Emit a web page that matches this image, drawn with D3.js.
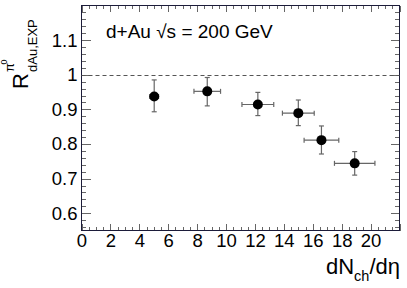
<!DOCTYPE html>
<html><head><meta charset="utf-8">
<script src="https://cdn.jsdelivr.net/npm/d3@7/dist/d3.min.js"></script>
<style>
body{margin:0;background:#fff}
svg{display:block}
text{font-family:"Liberation Sans",Arial,Helvetica,sans-serif;fill:#000}
</style></head>
<body><svg id="c" width="407" height="288"></svg>
<script>
// ---- data ----
const dNdEta   = [5.03, 8.7, 12.2, 15.0, 16.6, 18.9];
const dNdEtaErr= [0.3, 0.92, 1.1, 1.1, 1.2, 1.4];
const rdAu     = [0.937, 0.952, 0.914, 0.889, 0.811, 0.744];
const rdAuErrHi= [0.048, 0.040, 0.035, 0.038, 0.041, 0.034];
const rdAuErrLo= [0.044, 0.042, 0.032, 0.036, 0.040, 0.034];
const xTickLabels = [0,2,4,6,8,10,12,14,16,18,20];
const yTickLabels = [0.6,0.7,0.8,0.9,1,1.1];
const xDomain = [0,22], yDomain = [0.55,1.2];
const refLine = 1;
const labelText = "d+Au \u221As = 200 GeV";

const svg = d3.select("#c");
const L=81.5, R=399.5, T=5.5, B=230.5;
const x = d3.scaleLinear().domain(xDomain).range([L,R]);
const y = d3.scaleLinear().domain(yDomain).range([B,T]);

const xMinor = d3.range(0,22.001,0.5).filter(v=>Math.abs(v/2-Math.round(v/2))>1e-6);
const yMinor = d3.range(0.56,1.2,0.02).filter(v=>Math.abs(v*10-Math.round(v*10))>1e-6);
const xMajorAll = d3.range(0,22.001,2);
const yMajorAll = d3.range(0.6,1.2,0.1);

function styleAxis(g){
  g.select(".domain").remove();
  g.selectAll(".tick line").attr("stroke","#666").attr("shape-rendering","crispEdges");
  g.selectAll("text").attr("font-size","18.5px").attr("fill","#000");
}
// bottom
svg.append("g").attr("transform",`translate(0,${B})`)
  .call(d3.axisBottom(x).tickValues(xMinor).tickSize(-3.5).tickFormat("")).call(styleAxis);
svg.append("g").attr("transform",`translate(0,${B})`)
  .call(d3.axisBottom(x).tickValues(xMajorAll).tickSize(-6.5).tickPadding(3)
     .tickFormat(d=> xTickLabels.includes(d)? d3.format("d")(d):"")).call(styleAxis);
// top
svg.append("g").attr("transform",`translate(0,${T})`)
  .call(d3.axisTop(x).tickValues(xMinor).tickSize(-3.5).tickFormat("")).call(styleAxis);
svg.append("g").attr("transform",`translate(0,${T})`)
  .call(d3.axisTop(x).tickValues(xMajorAll).tickSize(-6.5).tickFormat("")).call(styleAxis);
// left
svg.append("g").attr("transform",`translate(${L},0)`)
  .call(d3.axisLeft(y).tickValues(yMinor).tickSize(-4.5).tickFormat("")).call(styleAxis);
svg.append("g").attr("transform",`translate(${L},0)`)
  .call(d3.axisLeft(y).tickValues(yMajorAll).tickSize(-9).tickPadding(4)
     .tickFormat(d=>{const m=yTickLabels.find(v=>Math.abs(v-d)<1e-6); return m===undefined?"":String(m);}))
  .call(styleAxis);
// right
svg.append("g").attr("transform",`translate(${R},0)`)
  .call(d3.axisRight(y).tickValues(yMinor).tickSize(-4.5).tickFormat("")).call(styleAxis);
svg.append("g").attr("transform",`translate(${R},0)`)
  .call(d3.axisRight(y).tickValues(yMajorAll).tickSize(-9).tickFormat("")).call(styleAxis);

// frame
svg.append("rect").attr("x",L).attr("y",T).attr("width",R-L).attr("height",B-T)
  .attr("fill","none").attr("stroke","#1c1c3a").attr("stroke-width",1);

// reference dashed line
svg.append("line").attr("x1",x(xDomain[0])).attr("x2",x(xDomain[1]))
  .attr("y1",Math.round(y(refLine))+0.5).attr("y2",Math.round(y(refLine))+0.5)
  .attr("stroke","#555").attr("stroke-dasharray","4,3").attr("stroke-width",1);

// error bars
const data = dNdEta.map((d,i)=>({x:d,xe:dNdEtaErr[i],y:rdAu[i],hi:rdAuErrHi[i],lo:rdAuErrLo[i]}));
const eb = svg.append("g").attr("stroke","#666").attr("stroke-width",1.2).attr("fill","none");
data.forEach(d=>{
  const cx=x(d.x), cy=y(d.y);
  eb.append("line").attr("x1",cx).attr("x2",cx).attr("y1",y(d.y+d.hi)).attr("y2",y(d.y-d.lo));
  eb.append("line").attr("x1",cx-2.5).attr("x2",cx+2.5).attr("y1",y(d.y+d.hi)).attr("y2",y(d.y+d.hi));
  eb.append("line").attr("x1",cx-2.5).attr("x2",cx+2.5).attr("y1",y(d.y-d.lo)).attr("y2",y(d.y-d.lo));
  eb.append("line").attr("x1",x(d.x-d.xe)).attr("x2",x(d.x+d.xe)).attr("y1",cy).attr("y2",cy);
  eb.append("line").attr("x1",x(d.x-d.xe)).attr("x2",x(d.x-d.xe)).attr("y1",cy-2.5).attr("y2",cy+2.5);
  eb.append("line").attr("x1",x(d.x+d.xe)).attr("x2",x(d.x+d.xe)).attr("y1",cy-2.5).attr("y2",cy+2.5);
});
svg.append("g").selectAll("circle").data(data).join("circle")
  .attr("cx",d=>x(d.x)).attr("cy",d=>y(d.y)).attr("r",5).attr("fill","#000");

// annotation
svg.append("text").attr("x",106).attr("y",38).attr("font-size","19px").text(labelText);

// x title
const xt = svg.append("text").attr("x",400).attr("y",274).attr("text-anchor","end").attr("font-size","22px");
xt.append("tspan").text("dN");
xt.append("tspan").attr("font-size","14.5px").attr("dy",7).text("ch");
xt.append("tspan").attr("dy",-7).text("/d\u03B7");

// y title
const yt = svg.append("g").attr("transform","translate(28,89) rotate(-90)");
yt.append("text").attr("x",0).attr("y",0).attr("font-size","22px").text("R");
yt.append("text").attr("x",17).attr("y",9).attr("font-size","13px").text("dAu,EXP");
yt.append("text").attr("x",17).attr("y",-14).attr("font-size","13px").text("\u03C0");
yt.append("text").attr("x",24.5).attr("y",-21).attr("font-size","9px").text("0");
</script></body></html>
